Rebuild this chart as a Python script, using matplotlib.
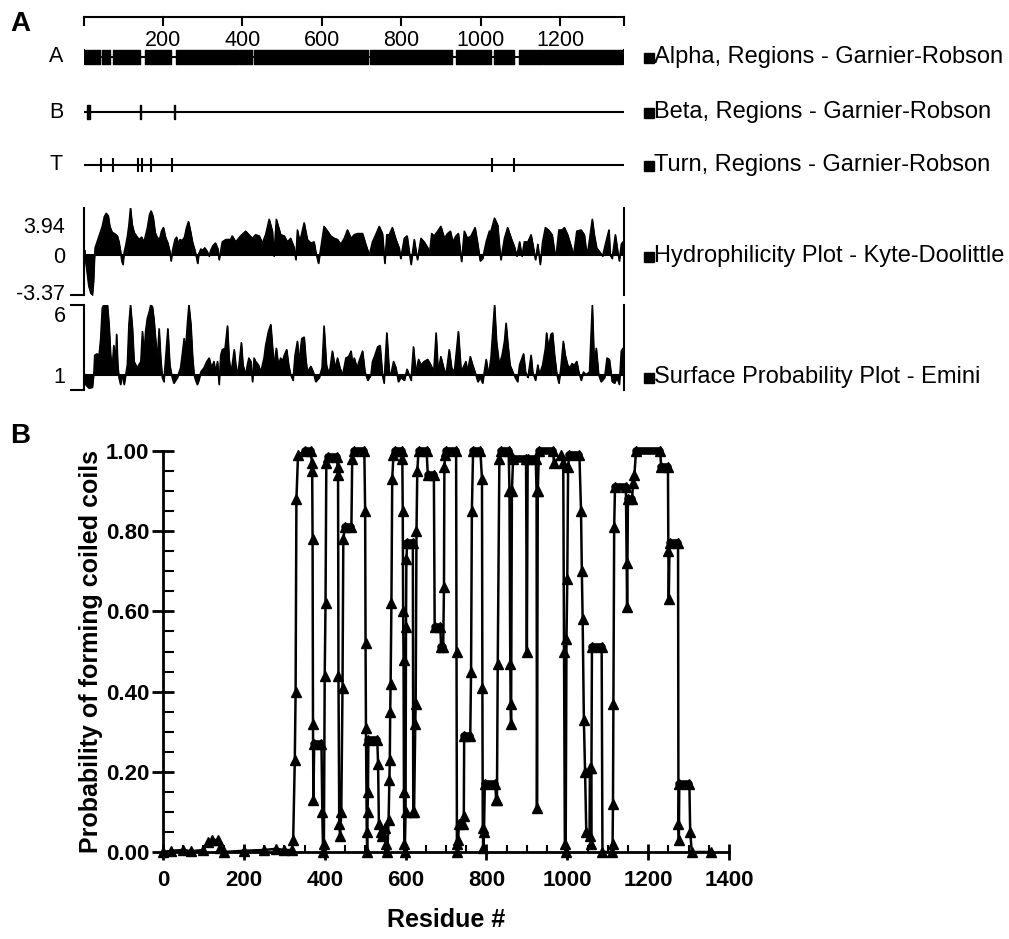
import matplotlib
matplotlib.use("Agg")
import matplotlib.pyplot as plt
import numpy as np
from matplotlib.ticker import MultipleLocator, FormatStrFormatter
from matplotlib.transforms import ScaledTranslation
from matplotlib.lines import Line2D

plt.rcParams['font.family'] = ['Liberation Sans', 'DejaVu Sans']

# ---------------- data ----------------
SEQ_LEN = 1360
ruler_ticks = [200, 400, 600, 800, 1000, 1200]

alpha_regions = [(3, 13), (17, 42), (47, 67), (73, 143), (156, 162), (166, 219),
                 (232, 389), (391, 425), (428, 717), (720, 927), (937, 1025),
                 (1034, 1083), (1095, 1153), (1156, 1356)]
beta_regions = [(8, 16), (143, 145), (227, 231)]
turn_sites = [43, 74, 138, 146, 169, 222, 1028, 1084]

hydro_res = [0, 3, 5, 9, 13, 18, 22, 25, 27, 29, 33, 38, 43, 47, 52, 57, 62, 66, 72, 78,
             85, 89, 93, 96, 99, 102, 106, 110, 114, 118, 122, 127, 133, 140, 146, 152,
             160, 166, 170, 175, 180, 186, 192, 196, 201, 206, 212, 217, 220, 224, 230,
             234, 238, 243, 248, 254, 259, 264, 269, 274, 280, 284, 287, 290, 295, 300,
             305, 311, 316, 320, 326, 332, 338, 341, 349, 358, 370, 374, 383, 395, 408,
             416, 425, 433, 442, 450, 458, 467, 475, 479, 485, 496, 505, 513, 521, 530,
             534, 538, 544, 555, 563, 572, 580, 584, 591, 597, 605, 614, 622, 631, 639,
             647, 656, 664, 673, 681, 689, 702, 710, 719, 727, 735, 744, 752, 758, 763,
             769, 777, 786, 794, 798, 807, 814, 819, 824, 832, 840, 849, 857, 866, 870,
             876, 882, 891, 899, 908, 916, 923, 929, 937, 943, 951, 958, 966, 975, 985,
             992, 998, 1004, 1013, 1021, 1025, 1034, 1042, 1046, 1050, 1059, 1067, 1076,
             1084, 1090, 1097, 1103, 1109, 1118, 1126, 1132, 1137, 1143, 1149, 1155,
             1162, 1170, 1179, 1185, 1189, 1196, 1204, 1210, 1218, 1227, 1233, 1241,
             1252, 1260, 1264, 1269, 1280, 1285, 1291, 1298, 1306, 1313, 1322, 1325,
             1330, 1338, 1344, 1348, 1353, 1357, 1359]
hydro_val = [0.3, 0.4, -0.5, -1.5, -2.6, -3.2, -3.37, -2.2, -0.5, 0.6, 1.0, 1.5, 2.0, 2.4,
             3.2, 3.5, 3.3, 2.4, 1.9, 1.8, 1.6, 1.1, 0.3, -0.5, -0.8, 0.2, 0.8, 1.5, 2.5,
             3.94, 2.6, 1.9, 1.6, 1.3, 1.5, 1.1, 2.2, 3.4, 3.7, 3.2, 1.9, 1.4, 1.4, 2.0,
             2.3, 1.5, 1.0, 0.3, -0.5, 0.4, 1.3, 1.5, 1.0, 1.3, 1.2, 1.5, 2.3, 2.8, 2.0,
             1.1, 0.4, -0.2, -0.7, 0.1, 0.5, 0.4, 0.6, 0.3, -0.1, 0.4, 0.8, 1.0, 0.5, -0.4,
             1.1, 1.3, 1.3, 1.6, 1.1, 1.6, 2.0, 1.7, 1.4, 1.7, 1.6, 1.0, 1.7, 3.0, 2.0,
             -0.1, 3.0, 1.7, 1.6, 1.1, 1.4, 0.6, -0.4, 2.1, 1.1, 2.7, 1.3, 1.0, 1.1, 0.3,
             -0.7, 0.6, 2.4, 2.0, 1.6, 1.4, 1.3, 0.9, 1.4, 2.1, 1.4, 1.7, 1.8, 1.8, 0.9,
             0.0, 1.1, 1.7, 2.4, 1.8, -0.7, 1.7, 1.7, 2.3, 1.3, 0.6, -0.3, 1.4, 1.6, 0.4,
             -0.8, 1.3, -0.4, 1.4, 1.1, 0.6, 0.0, 1.8, 1.6, 2.0, 2.4, 1.4, 1.8, 2.0, 1.1,
             1.6, 1.8, -0.55, 2.0, 1.4, 1.6, 2.3, 0.9, -0.5, -0.3, 1.1, 2.0, 2.0, 3.1,
             2.5, 0.9, -0.4, 1.4, 2.3, 1.4, 0.7, -0.1, 1.1, -0.1, 1.1, 1.1, 1.7, 0.6,
             -0.4, 0.9, -0.8, 1.1, 2.3, 2.1, 1.7, 0.3, 0.0, 2.1, 2.1, 2.3, 1.7, 0.7, 0.0,
             2.0, 2.1, 1.7, 0.6, 0.3, 3.0, 1.7, 0.6, 0.3, -0.1, 0.9, 2.1, 0.0, -0.3, 1.7,
             0.3, -0.5, 0.9, 1.1, 0.2]

surf_res = [1, 5, 13, 22, 26, 28, 34, 39, 43, 47, 51, 60, 64, 68, 72, 76, 81, 83, 86, 89,
            93, 97, 102, 110, 114, 118, 123, 127, 135, 144, 148, 152, 156, 160, 165, 169,
            173, 177, 181, 186, 190, 194, 198, 202, 209, 212, 217, 223, 227, 236, 244,
            248, 253, 257, 261, 265, 270, 274, 278, 282, 286, 290, 295, 303, 310, 316,
            322, 328, 332, 337, 341, 345, 349, 356, 362, 366, 370, 374, 379, 383, 387,
            391, 397, 401, 408, 412, 416, 421, 425, 429, 433, 440, 446, 454, 458, 465,
            471, 475, 479, 485, 490, 496, 500, 505, 511, 516, 521, 527, 532, 538, 542,
            549, 555, 559, 563, 572, 578, 584, 593, 600, 605, 611, 618, 626, 633, 639,
            645, 652, 660, 667, 673, 677, 681, 688, 693, 702, 708, 715, 723, 727, 733,
            740, 746, 752, 756, 763, 769, 773, 780, 786, 792, 798, 807, 814, 819, 824,
            830, 836, 843, 849, 857, 866, 874, 881, 887, 892, 899, 906, 912, 920, 926,
            933, 943, 950, 958, 962, 966, 973, 979, 985, 992, 998, 1004, 1013, 1019,
            1025, 1034, 1039, 1046, 1053, 1059, 1063, 1067, 1073, 1080, 1086, 1092, 1097,
            1107, 1112, 1118, 1126, 1130, 1137, 1143, 1147, 1155, 1162, 1165, 1170, 1176,
            1180, 1185, 1191, 1196, 1201, 1207, 1212, 1218, 1224, 1229, 1235, 1241, 1246,
            1252, 1258, 1264, 1273, 1280, 1285, 1290, 1296, 1302, 1311, 1317, 1323, 1330,
            1336, 1342, 1348, 1353, 1357, 1359]
surf_val = [1.2, 0.3, 0.05, 0.1, 1.2, 2.4, 2.5, 2.4, 3.6, 5.8, 6.0, 6.0, 4.6, 2.4, 1.5,
            3.1, 2.2, 3.9, 1.7, 0.8, 0.3, 1.0, 0.3, 1.7, 4.6, 6.0, 4.3, 1.95, 1.5, 1.95,
            4.1, 2.4, 4.1, 5.0, 5.5, 6.0, 5.9, 5.0, 3.6, 2.2, 4.3, 2.2, 0.8, 0.5, 3.1,
            4.3, 1.7, 0.8, 0.4, 0.8, 1.5, 2.4, 3.6, 2.9, 4.6, 6.0, 4.6, 2.4, 1.0, 0.6,
            0.3, 0.6, 1.2, 1.5, 1.95, 2.2, 1.5, 1.95, 1.2, 1.95, 0.3, 2.4, 2.8, 2.9, 4.5,
            2.2, 1.2, 1.7, 2.8, 1.7, 1.0, 1.7, 3.3, 1.7, 1.0, 1.7, 2.2, 1.95, 0.5, 2.2,
            1.95, 1.7, 1.2, 2.2, 3.1, 4.1, 4.6, 3.1, 1.7, 2.9, 1.7, 2.2, 1.95, 2.4, 2.8,
            1.7, 1.0, 0.6, 2.4, 3.4, 1.95, 3.6, 3.7, 2.2, 1.2, 1.6, 1.2, 0.5, 0.8, 1.5,
            4.5, 1.7, 1.0, 2.7, 1.5, 2.2, 1.5, 1.0, 2.2, 2.3, 2.7, 1.7, 2.2, 1.5, 1.95,
            2.7, 1.2, 0.6, 1.0, 1.95, 2.4, 3.0, 3.1, 1.0, 0.4, 4.0, 1.2, 1.0, 1.95, 1.5,
            0.5, 0.8, 0.6, 1.4, 1.0, 0.6, 3.0, 1.2, 2.1, 1.7, 1.95, 2.1, 1.7, 1.2, 4.0,
            1.2, 2.3, 1.5, 1.0, 2.8, 1.5, 1.2, 4.1, 1.2, 1.7, 1.95, 1.2, 2.3, 1.7, 1.2,
            0.5, 0.8, 0.4, 2.1, 1.0, 2.2, 6.0, 3.4, 1.7, 2.4, 3.4, 4.7, 3.4, 1.7, 1.2,
            0.8, 0.5, 1.7, 2.5, 1.2, 0.8, 2.4, 1.2, 0.6, 1.7, 1.0, 1.7, 2.9, 4.0, 2.9,
            3.9, 4.0, 2.4, 1.0, 0.4, 1.5, 3.4, 2.4, 1.7, 1.5, 1.8, 1.7, 1.95, 1.2, 0.6,
            1.2, 1.0, 1.2, 6.0, 1.7, 2.9, 1.0, 0.5, 0.8, 2.2, 2.1, 0.5, 0.4, 0.8, 0.3,
            2.7, 2.9, 1.2]

coil_res = [0, 20, 50, 70, 100, 112, 120, 135, 142, 150, 200, 250, 280, 300, 318, 322,
            326, 328, 330, 334, 350, 366, 368, 369, 370, 371, 372, 374, 392, 394, 396,
            398, 400, 402, 404, 408, 430, 432, 433, 434, 436, 438, 441, 444, 446, 450,
            466, 468, 472, 498, 500, 501, 502, 504, 505, 506, 507, 508, 530, 532, 534,
            538, 542, 548, 552, 555, 558, 560, 561, 562, 563, 565, 567, 570, 575, 590,
            592, 593, 594, 595, 596, 597, 598, 600, 601, 602, 604, 618, 619, 621, 624,
            625, 627, 629, 632, 652, 655, 670, 672, 686, 688, 693, 695, 696, 698, 700,
            725, 726, 727, 728, 730, 732, 742, 744, 745, 760, 762, 764, 767, 785, 789,
            790, 791, 792, 794, 796, 822, 824, 826, 828, 832, 835, 855, 857, 859, 860,
            861, 863, 866, 898, 900, 902, 922, 924, 925, 927, 930, 965, 967, 985, 990,
            992, 994, 996, 998, 1000, 1002, 1005, 1030, 1034, 1036, 1038, 1041, 1044,
            1047, 1055, 1056, 1058, 1059, 1061, 1085, 1087, 1110, 1112, 1113, 1114, 1116,
            1118, 1145, 1147, 1148, 1150, 1160, 1163, 1166, 1170, 1230, 1232, 1249, 1250,
            1251, 1253, 1274, 1275, 1276, 1277, 1302, 1304, 1308, 1355]
coil_prob = [0.0, 0.003, 0.005, 0.002, 0.005, 0.025, 0.03, 0.03, 0.01, 0.0, 0.003, 0.005,
             0.008, 0.005, 0.005, 0.03, 0.23, 0.40, 0.88, 0.99, 1.0, 1.0, 0.97, 0.95, 0.78,
             0.32, 0.13, 0.27, 0.27, 0.10, 0.0, 0.02, 0.44, 0.62, 0.97, 0.985, 0.985, 0.96,
             0.94, 0.44, 0.07, 0.04, 0.10, 0.41, 0.78, 0.81, 0.81, 0.98, 1.0, 1.0, 0.85,
             0.52, 0.31, 0.05, 0.0, 0.10, 0.15, 0.28, 0.28, 0.22, 0.07, 0.05, 0.04, 0.06,
             0.02, 0.0, 0.08, 0.18, 0.23, 0.35, 0.42, 0.62, 0.93, 0.99, 1.0, 1.0, 0.98,
             0.85, 0.60, 0.48, 0.15, 0.02, 0.0, 0.10, 0.56, 0.73, 0.77, 0.77, 0.10, 0.10,
             0.32, 0.37, 0.80, 0.95, 1.0, 1.0, 0.94, 0.94, 0.56, 0.56, 0.51, 0.51, 0.66,
             0.96, 0.99, 1.0, 1.0, 0.5, 0.02, 0.0, 0.03, 0.07, 0.07, 0.09, 0.29, 0.29,
             0.45, 0.85, 1.0, 1.0, 0.93, 0.41, 0.06, 0.01, 0.05, 0.17, 0.17, 0.13, 0.13,
             0.47, 0.98, 1.0, 1.0, 0.90, 0.47, 0.37, 0.32, 0.90, 0.98, 0.98, 0.50, 0.98,
             0.98, 0.90, 0.11, 0.90, 1.0, 1.0, 0.97, 0.99, 0.97, 0.50, 0.02, 0.0, 0.53,
             0.68, 0.96, 0.99, 0.99, 0.85, 0.70, 0.58, 0.33, 0.20, 0.05, 0.04, 0.21, 0.21,
             0.02, 0.51, 0.51, 0.0, 0.0, 0.02, 0.12, 0.37, 0.81, 0.91, 0.91, 0.72, 0.61,
             0.88, 0.88, 0.92, 0.94, 1.0, 1.0, 0.96, 0.96, 0.75, 0.63, 0.77, 0.77, 0.07,
             0.03, 0.17, 0.17, 0.05, 0.0, 0.0]

# ---------------- layout ----------------
W, H = 1009, 939
fig = plt.figure(figsize=(W / 100, H / 100), dpi=100)


def rect(x0, y0, x1, y1):
    return [x0 / W, 1 - y1 / H, (x1 - x0) / W, (y1 - y0) / H]


X0, X1 = 83.5, 624
FS_A = 15.5
FS_R = 17
LW = 1.5

# ---- Panel A: tracks ----
ax_t = fig.add_axes(rect(X0, 5, X1, 185))
ax_t.set_xlim(0, SEQ_LEN)
ax_t.set_ylim(185, 5)
ax_t.axis('off')

# ruler
ax_t.plot([0, SEQ_LEN], [17, 17], color='k', lw=LW, clip_on=False)
for t in [0] + ruler_ticks + [SEQ_LEN]:
    ax_t.plot([t, t], [17, 25], color='k', lw=LW, clip_on=False)
for t in ruler_ticks:
    ax_t.text(t, 40, str(t), ha='center', va='center', fontsize=FS_A)

# alpha
ax_t.plot([0, SEQ_LEN], [57, 57], color='k', lw=LW)
for t in [0, SEQ_LEN]:
    ax_t.plot([t, t], [50, 64], color='k', lw=LW)
ax_t.broken_barh([(s, e - s) for s, e in alpha_regions], (50, 14), color='k')
# beta
ax_t.plot([0, SEQ_LEN], [112, 112], color='k', lw=LW)
ax_t.broken_barh([(s, e - s) for s, e in beta_regions], (105, 14),
                 facecolor='k', edgecolor='k', lw=1)
# turn
ax_t.plot([0, SEQ_LEN], [165, 165], color='k', lw=LW)
ax_t.vlines(turn_sites, 158, 172, color='k', lw=LW)

for lab, yy in [('A', 57), ('B', 112), ('T', 165)]:
    fig.text(56 / W, 1 - yy / H, lab, ha='center', va='center', fontsize=FS_A)

right_labels = [('Alpha, Regions - Garnier-Robson', 57),
                ('Beta, Regions - Garnier-Robson', 112),
                ('Turn, Regions - Garnier-Robson', 165),
                ('Hydrophilicity Plot - Kyte-Doolittle', 256),
                ('Surface Probability Plot - Emini', 377)]
for txt, yy in right_labels:
    fig.add_artist(Line2D([649 / W], [1 - (yy + 1) / H], marker='s', ms=6.5,
                          color='k', lw=0, transform=fig.transFigure))
    fig.text(654 / W, 1 - yy / H, txt, ha='left', va='center', fontsize=FS_R)

# ---- Hydrophilicity ----
ax_h = fig.add_axes(rect(X0, 208, X1, 295))
ax_h.set_xlim(0, SEQ_LEN)
ax_h.set_ylim(-3.37, 3.94)
ax_h.fill_between(hydro_res, hydro_val, 0, color='k', lw=0.8)
ax_h.plot(hydro_res, hydro_val, color='k', lw=1.0)
ax_h.axhline(0, color='k', lw=LW)
for s in ['top', 'bottom']:
    ax_h.spines[s].set_visible(False)
for s in ['left', 'right']:
    ax_h.spines[s].set_linewidth(LW)
ax_h.set_xticks([])
ax_h.set_yticks([-3.37, 0, 3.94], labels=['-3.37', '0', '3.94'], fontsize=FS_A)
ax_h.tick_params(axis='y', direction='out', length=10, width=LW, pad=3)
ticks = ax_h.yaxis.get_major_ticks()
ticks[1].tick1line.set_visible(False)
ticks[2].tick1line.set_visible(False)
labs = ax_h.get_yticklabels()
labs[2].set_transform(labs[2].get_transform() +
                      ScaledTranslation(0, -17 / 100, fig.dpi_scale_trans))
labs[0].set_transform(labs[0].get_transform() +
                      ScaledTranslation(0, 3 / 100, fig.dpi_scale_trans))

# ---- Surface probability ----
ax_s = fig.add_axes(rect(X0, 305, X1, 390))
ax_s.set_xlim(0, SEQ_LEN)
ax_s.set_ylim(-0.1, 6.0)
ax_s.fill_between(surf_res, surf_val, 1, color='k', lw=0.8)
ax_s.plot(surf_res, surf_val, color='k', lw=1.0)
ax_s.axhline(1, color='k', lw=LW)
for s in ['top', 'bottom']:
    ax_s.spines[s].set_visible(False)
for s in ['left', 'right']:
    ax_s.spines[s].set_linewidth(LW)
ax_s.set_xticks([])
ax_s.set_yticks([-0.1, 1, 6.0], labels=['', '1', '6'], fontsize=FS_A)
ax_s.tick_params(axis='y', direction='out', length=10, width=LW, pad=3)
ax_s.yaxis.get_major_ticks()[1].tick1line.set_visible(False)
lab = ax_s.get_yticklabels()[2]
lab.set_transform(lab.get_transform() + ScaledTranslation(0, -9 / 100, fig.dpi_scale_trans))

# ---- Panel B ----
ax_b = fig.add_axes(rect(163, 451, 729, 852))
ax_b.set_xlim(0, 1400)
ax_b.set_ylim(0, 1.0)
ax_b.plot(coil_res, coil_prob, color='k', lw=1.8, marker='^', ms=6.5,
          clip_on=False, solid_joinstyle='round')
# thick plateau runs
cr = np.array(coil_res)
cp = np.array(coil_prob)
for i in range(len(cr) - 1):
    if cp[i] == cp[i + 1] and cr[i + 1] - cr[i] >= 5 and cp[i] > 0.1:
        ax_b.plot([cr[i], cr[i + 1]], [cp[i], cp[i + 1]], color='k', lw=5.5,
                  solid_capstyle='round', clip_on=False)
for s in ['top', 'right']:
    ax_b.spines[s].set_visible(False)
for s in ['left', 'bottom']:
    ax_b.spines[s].set_linewidth(2)
ax_b.set_yticks(np.arange(0, 1.01, 0.2))
ax_b.set_xticks(np.arange(0, 1401, 200))
ax_b.yaxis.set_major_formatter(FormatStrFormatter('%.2f'))
ax_b.yaxis.set_minor_locator(MultipleLocator(0.05))
ax_b.xaxis.set_minor_locator(MultipleLocator(50))
ax_b.tick_params(axis='y', which='major', direction='inout', length=16, width=2, pad=2)
ax_b.tick_params(axis='y', which='minor', direction='in', length=8, width=1.5)
ax_b.tick_params(axis='x', which='major', direction='inout', length=12, width=2, pad=7)
ax_b.tick_params(axis='x', which='minor', direction='in', length=5, width=1.5)
for lbl in ax_b.get_xticklabels() + ax_b.get_yticklabels():
    lbl.set_fontweight('bold')
    lbl.set_fontsize(16)
ax_b.set_xlabel('Residue #', fontsize=18, fontweight='bold', labelpad=12)
ax_b.set_ylabel('Probability of forming coiled coils', fontsize=18, fontweight='bold',
                labelpad=2)

fig.text(10 / W, 1 - 24 / H, 'A', fontsize=20, fontweight='bold', va='center')
fig.text(10 / W, 1 - 436 / H, 'B', fontsize=20, fontweight='bold', va='center')

fig.savefig('out.png', dpi=100)
